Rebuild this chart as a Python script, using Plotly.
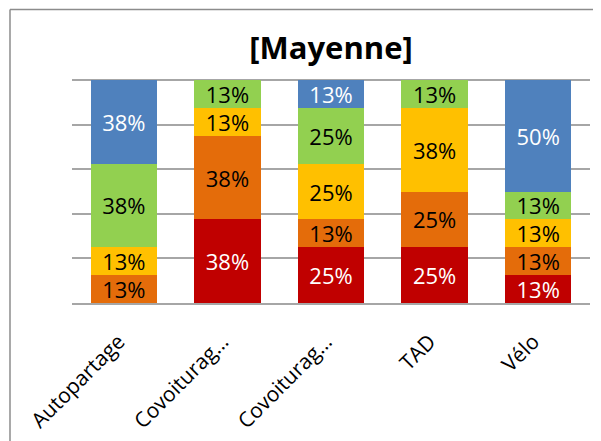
import plotly.graph_objects as go

categories = ["Autopartage", "Covoiturag…", "Covoiturag…", "TAD", "Vélo"]

# share of answers per level (%), bottom of the stack first
level_1 = [None, 37.5, 25, 25, 12.5]
level_2 = [12.5, 37.5, 12.5, 25, 12.5]
level_3 = [12.5, 12.5, 25, 37.5, 12.5]
level_4 = [37.5, 12.5, 25, 12.5, 12.5]
level_5 = [37.5, None, 12.5, None, 50]

series = [
    ("Niveau 1", level_1, "#C00000", "white"),
    ("Niveau 2", level_2, "#E46C0A", "black"),
    ("Niveau 3", level_3, "#FFC000", "black"),
    ("Niveau 4", level_4, "#92D050", "black"),
    ("Niveau 5", level_5, "#4F81BD", "white"),
]

FONT = "Open Sans"
BORDER = dict(color="#8c8c8c", width=1.5)

fig = go.Figure()
for name, values, color, text_color in series:
    fig.add_trace(go.Bar(
        name=name,
        x=list(range(len(categories))),
        y=values,
        marker=dict(color=color, line=dict(width=0)),
        texttemplate="%{y:.0f}%",
        textposition="inside",
        insidetextanchor="middle",
        textfont=dict(family=FONT, size=22, color=text_color),
        showlegend=False,
    ))

# page body has an 8px margin, so the figure is 8px smaller than the window
fig.update_layout(
    barmode="stack",
    bargap=0.36,
    width=593,
    height=433,
    paper_bgcolor="white",
    plot_bgcolor="white",
    margin=dict(l=64, r=11, t=71, b=138),
    title=dict(
        text="<b>[Mayenne]</b>",
        x=(64 + 582) / 2 / 593,
        xanchor="center",
        y=1 - 40 / 433,
        yanchor="middle",
        font=dict(family=FONT, size=31, color="black"),
    ),
    uniformtext=dict(mode="show", minsize=22),
    # outer chart frame: left and top edges are visible in the window
    shapes=[
        dict(type="line", xref="paper", yref="paper",
             x0=-0.1197, x1=-0.1197, y0=-0.7, y1=1.31, line=BORDER),
        dict(type="line", xref="paper", yref="paper",
             x0=-0.1197, x1=1.1, y0=1.31, y1=1.31, line=BORDER),
    ],
)

fig.update_xaxes(
    tickmode="array",
    tickvals=list(range(len(categories))),
    ticktext=categories,
    tickangle=-45,
    tickfont=dict(family=FONT, size=21, color="black"),
    ticklabelstandoff=16,
    ticklabelshift=-5,
    automargin=False,
    showline=True,
    linecolor="#a6a6a6",
    linewidth=2,
    ticks="",
    range=[-0.5, len(categories) - 0.5],
)
fig.update_yaxes(
    range=[0, 100.5],
    tickmode="array",
    tickvals=[20, 40, 60, 80, 100],
    showticklabels=False,
    showgrid=True,
    gridcolor="#a6a6a6",
    gridwidth=1.5,
    zeroline=False,
    ticks="",
)

fig.write_html("out.html")
